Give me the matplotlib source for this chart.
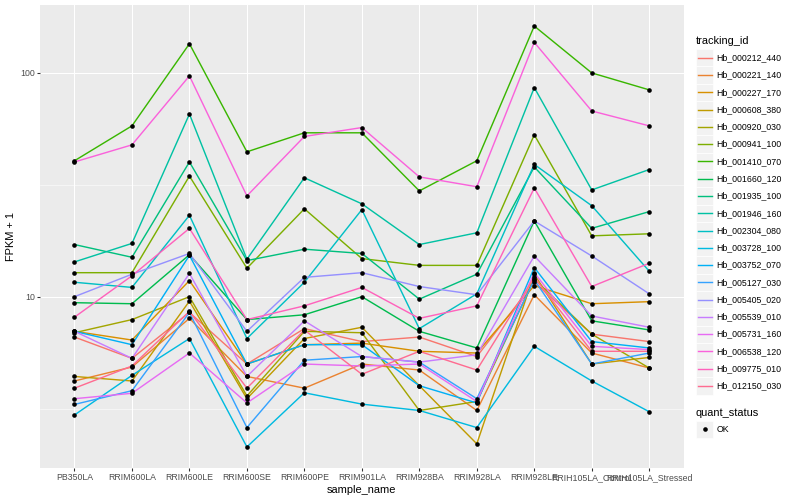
import numpy as np
import matplotlib
matplotlib.use("Agg")
import matplotlib.pyplot as plt
from matplotlib.patches import Rectangle
from matplotlib.lines import Line2D

plt.rcParams['font.family'] = ['Liberation Sans', 'DejaVu Sans']

samples = ["PB350LA", "RRIM600LA", "RRIM600LE", "RRIM600SE", "RRIM600PE", "RRIM901LA",
           "RRIM928BA", "RRIM928LA", "RRIM928LE", "RRIH105LA_Control", "RRIH105LA_Stressed"]

tracking_ids = ["Hb_000212_440", "Hb_000221_140", "Hb_000227_170", "Hb_000608_380",
                "Hb_000920_030", "Hb_000941_100", "Hb_001410_070", "Hb_001660_120",
                "Hb_001935_100", "Hb_001946_160", "Hb_002304_080", "Hb_003728_100",
                "Hb_003752_070", "Hb_005127_030", "Hb_005405_020", "Hb_005539_010",
                "Hb_005731_160", "Hb_006538_120", "Hb_009775_010", "Hb_012150_030"]

colors = ["#F8766D", "#EA8331", "#D89000", "#C09B00", "#A3A500", "#7CAE00", "#39B600",
          "#00BB4E", "#00BF7D", "#00C1A3", "#00BFC4", "#00BAE0", "#00B0F6", "#35A2FF",
          "#9590FF", "#C77CFF", "#E76BF3", "#FA62DB", "#FF62BC", "#FF6C91"]

# FPKM + 1 values, one list per tracking_id (in sample order)
hb_000212_440 = [6.6, 5.3, 8.5, 5.0, 7.2, 6.3, 6.6, 5.4, 11.6, 6.8, 6.3]
hb_000221_140 = [4.2, 4.85, 8.0, 4.4, 3.9, 5.0, 4.7, 3.1, 10.2, 5.6, 4.8]
hb_000227_170 = [7.0, 6.4, 11.8, 5.0, 6.1, 6.2, 5.7, 5.6, 11.2, 9.3, 9.5]
hb_000608_380 = [4.4, 4.2, 9.55, 3.5, 6.5, 7.3, 4.0, 2.2, 12.6, 5.0, 5.35]
hb_000920_030 = [6.9, 7.9, 10.0, 3.6, 7.0, 6.9, 3.1, 3.4, 12.0, 6.8, 4.8]
hb_000941_100 = [12.8, 12.8, 34.6, 13.4, 24.7, 14.8, 13.8, 13.8, 52.9, 18.7, 19.1]
hb_001410_070 = [40.5, 58.0, 135.0, 44.4, 54.0, 54.0, 29.7, 40.5, 162.0, 100.0, 84.0]
hb_001660_120 = [9.4, 9.3, 15.4, 7.9, 8.3, 10.0, 7.0, 5.9, 21.8, 7.8, 7.1]
hb_001935_100 = [17.1, 15.0, 40.0, 14.5, 16.3, 15.6, 9.75, 12.6, 38.0, 20.2, 24.0]
hb_001946_160 = [14.3, 17.3, 65.5, 14.7, 34.0, 26.0, 17.1, 19.3, 86.0, 30.0, 37.0]
hb_002304_080 = [11.6, 11.0, 23.1, 6.5, 11.6, 24.5, 7.2, 10.3, 39.0, 25.5, 13.0]
hb_003728_100 = [2.96, 4.45, 6.5, 2.13, 3.72, 3.31, 3.1, 2.6, 6.0, 4.2, 3.06]
hb_003752_070 = [7.0, 6.1, 15.3, 5.0, 6.1, 6.1, 4.0, 3.35, 13.5, 6.3, 5.9]
hb_005127_030 = [3.3, 3.8, 8.5, 2.6, 5.2, 5.4, 5.1, 3.5, 11.9, 5.0, 5.6]
hb_005405_020 = [10.0, 12.6, 15.6, 7.0, 12.2, 12.8, 11.1, 10.2, 21.8, 15.2, 10.3]
hb_005539_010 = [7.0, 5.3, 12.7, 4.4, 7.8, 5.4, 5.1, 5.5, 15.2, 8.2, 7.3]
hb_005731_160 = [3.5, 3.7, 5.6, 3.35, 5.0, 4.9, 5.0, 3.4, 12.8, 6.0, 5.8]
hb_006538_120 = [40.0, 47.7, 97.0, 28.2, 52.0, 57.0, 34.3, 31.0, 137.0, 67.6, 58.0]
hb_009775_010 = [8.1, 12.4, 20.2, 7.9, 9.1, 11.0, 8.0, 9.1, 30.6, 11.1, 14.1]
hb_012150_030 = [3.9, 4.9, 8.6, 3.9, 7.1, 4.5, 5.7, 4.7, 12.2, 5.7, 5.7]

series = [hb_000212_440, hb_000221_140, hb_000227_170, hb_000608_380, hb_000920_030,
          hb_000941_100, hb_001410_070, hb_001660_120, hb_001935_100, hb_001946_160,
          hb_002304_080, hb_003728_100, hb_003752_070, hb_005127_030, hb_005405_020,
          hb_005539_010, hb_005731_160, hb_006538_120, hb_009775_010, hb_012150_030]

quant_status = ["OK"]

W, H = 800, 500
fig = plt.figure(figsize=(8, 5), dpi=100)
px = 72.0 / 100.0  # points per pixel

# panel in pixels: x 40..683.7, y 5..468
pl, pr, pt, pb = 40.0, 683.7, 5.0, 468.0
ax = fig.add_axes([pl / W, 1 - pb / H, (pr - pl) / W, (pb - pt) / H])
ax.set_facecolor("#EBEBEB")
for s in ax.spines.values():
    s.set_visible(False)

x = np.arange(len(samples))
for vals, col in zip(series, colors):
    ax.plot(x, vals, color=col, lw=1.42 * px, zorder=2, solid_capstyle='butt')
for vals in series:
    ax.plot(x, vals, ls='none', marker='o', ms=4.6 * px, color='black',
            markeredgewidth=0, zorder=3)

ax.set_yscale('log')
allv = np.concatenate([np.asarray(v, float) for v in series])
lo, hi = np.log10(allv.min()), np.log10(allv.max())
pad = 0.05 * (hi - lo)
ax.set_ylim(10 ** (lo - pad), 10 ** (hi + pad))
ax.set_xlim(-0.6, len(samples) - 0.4)

ax.set_yticks([10, 100])
ax.set_yticklabels(["10", "100"])
ax.set_yticks([10 ** 0.5, 10 ** 1.5], minor=True)
ax.yaxis.set_minor_formatter(matplotlib.ticker.NullFormatter())
ax.set_xticks(x)
ax.set_xticklabels(samples)

ax.grid(which='major', color='white', lw=1.07 * px, zorder=0)
ax.grid(which='minor', axis='y', color='white', lw=0.53 * px, zorder=0)
ax.set_axisbelow(True)
ax.tick_params(which='major', length=2.75 * px, width=1.07 * px, color='#333333',
               labelsize=8.8 * px, labelcolor='#4D4D4D', pad=2.2 * px)
ax.tick_params(which='minor', length=0)

ax.set_xlabel("sample_name", fontsize=11 * px, color='black', labelpad=2.0)
ax.set_ylabel("FPKM + 1", fontsize=11 * px, color='black', labelpad=3.0)

# legend drawn in figure pixel coordinates
lg = fig.add_axes([0, 0, 1, 1], facecolor='none')
lg.set_xlim(0, W)
lg.set_ylim(H, 0)
lg.axis('off')

kx, ks = 696.0, 17.28
lg.text(kx, 40.7, "tracking_id", fontsize=11 * px, va='center', ha='left', color='black')
y0 = 57.7
for i, (tid, col) in enumerate(zip(tracking_ids, colors)):
    yc = y0 + i * ks
    lg.add_patch(Rectangle((kx, yc - ks / 2), ks, ks, facecolor='#F2F2F2',
                           edgecolor='white', lw=0.5))
    lg.add_line(Line2D([kx + 1.7, kx + ks - 1.7], [yc, yc], color=col, lw=1.42 * px))
    lg.text(kx + ks + 3.2, yc, tid, fontsize=8.8 * px, va='center', ha='left', color='black')

lg.text(kx, 412.7, "quant_status", fontsize=11 * px, va='center', ha='left', color='black')
for j, qs in enumerate(quant_status):
    yc = 429.3 + j * ks
    lg.add_patch(Rectangle((kx, yc - ks / 2), ks, ks, facecolor='#F2F2F2',
                           edgecolor='white', lw=0.5))
    lg.plot([kx + ks / 2], [yc], marker='o', ms=4.6 * px, color='black', markeredgewidth=0)
    lg.text(kx + ks + 3.2, yc, qs, fontsize=8.8 * px, va='center', ha='left', color='black')

fig.savefig("out.png", dpi=100, facecolor='white')
